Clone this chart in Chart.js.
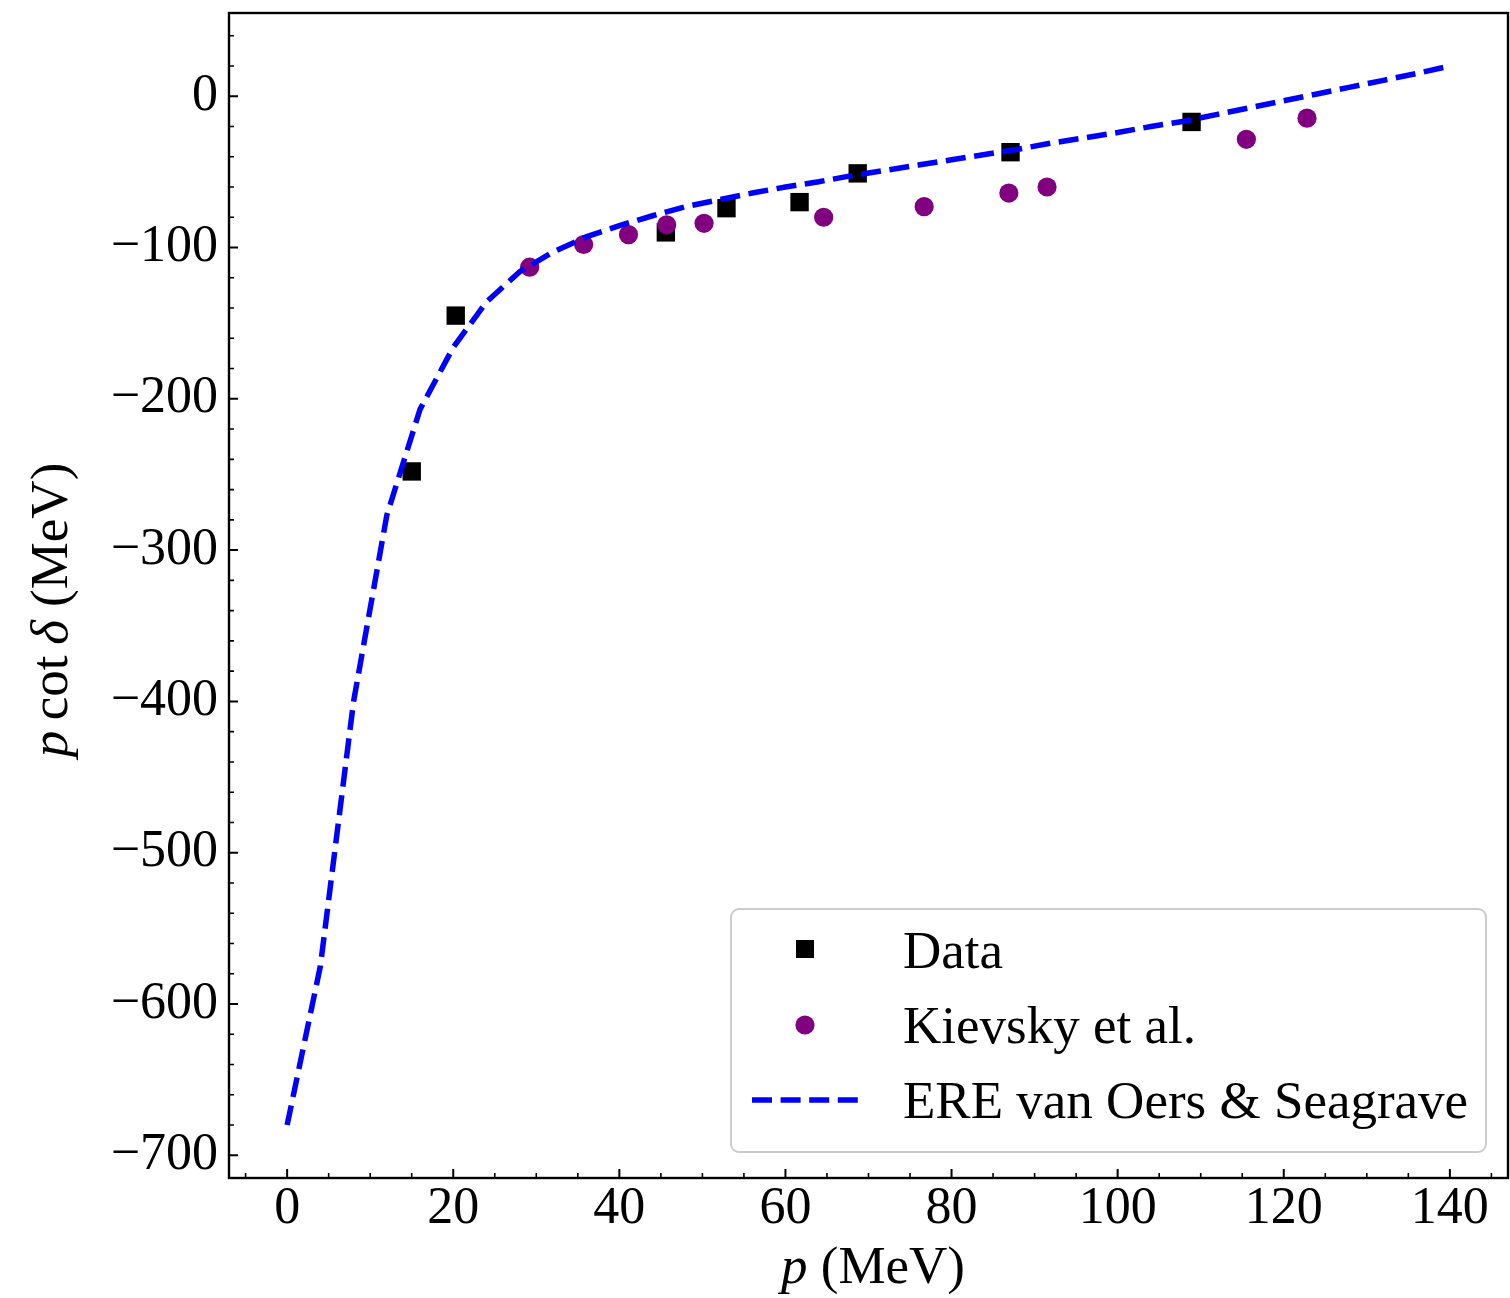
<!DOCTYPE html>
<html>
<head>
<meta charset="utf-8">
<script src="https://cdn.jsdelivr.net/npm/chart.js@4.4.0/dist/chart.umd.min.js"></script>
<style>
  html, body { margin: 0; padding: 0; background: #fff; }
  #wrap { width: 1510px; height: 1298px; }
</style>
</head>
<body>
<div id="wrap"><canvas id="pcot" width="1510" height="1298"></canvas></div>
<script>
// measured n-d doublet points: p (MeV) and p cot(delta) (MeV)
var data_p    = [15.0, 20.3, 45.6, 52.9, 61.7, 68.7, 87.1, 108.9];
var data_pcot = [-248, -145, -90, -74, -70, -51, -37, -17];

// Kievsky et al. calculation
var kiev_p    = [29.2, 35.7, 41.1, 45.7, 50.2, 64.6, 76.7, 86.9, 91.5, 115.5, 122.8];
var kiev_pcot = [-113, -98, -91.5, -85, -84, -80, -73, -64, -60, -28.5, -14.5];

// effective range expansion curve (van Oers & Seagrave)
var ere_p    = [0, 4, 8, 12, 16, 20, 24, 28, 32, 36, 40, 44, 48, 52, 56, 60, 64, 68,
                72, 76, 80, 84, 88, 92, 96, 100, 104, 108, 112, 116, 120, 124, 128, 132, 136, 140];
var ere_pcot = [-680, -575, -400, -277, -207, -166, -136, -116, -103, -93, -85.5, -79, -73, -68.5, -64, -60, -56.5, -52.5,
                -49, -45.5, -42, -38.5, -35, -31, -27.5, -24, -20, -16.5, -12, -7.5, -3, 1.5, 6, 10.5, 15, 20];

var x_ticks = [0, 20, 40, 60, 80, 100, 120, 140];
var y_ticks = [-700, -600, -500, -400, -300, -200, -100, 0];

var serif = "'Liberation Serif', 'Times New Roman', serif";

function pairs(xs, ys) {
    return xs.map(function (x, i) { return { x: x, y: ys[i] }; });
}

// spines + inward ticks (major and minor), drawn over the data like matplotlib
var framePlugin = {
    id: 'frame',
    afterDraw: function (chart) {
        var c = chart.ctx, a = chart.chartArea;
        var sx = chart.scales.x, sy = chart.scales.y;
        c.save();
        c.strokeStyle = '#000';
        c.lineCap = 'butt';

        c.lineWidth = 1.6;
        c.beginPath();
        for (var v = -5; v <= 145; v += 5) {
            if (v % 20 === 0) continue;
            var px = sx.getPixelForValue(v);
            c.moveTo(px, a.bottom); c.lineTo(px, a.bottom - 5);
        }
        for (var w = -700; w <= 40; w += 20) {
            if (w % 100 === 0) continue;
            var py = sy.getPixelForValue(w);
            c.moveTo(a.left, py); c.lineTo(a.left + 5, py);
        }
        c.stroke();

        c.lineWidth = 2;
        c.beginPath();
        x_ticks.forEach(function (t) {
            var px = sx.getPixelForValue(t);
            c.moveTo(px, a.bottom); c.lineTo(px, a.bottom - 9);
        });
        y_ticks.forEach(function (t) {
            var py = sy.getPixelForValue(t);
            c.moveTo(a.left, py); c.lineTo(a.left + 9, py);
        });
        c.stroke();

        c.lineWidth = 2.4;
        c.strokeRect(a.left, a.top, a.right - a.left, a.bottom - a.top);
        c.restore();
    }
};

// axis titles with italic math symbols
var titlePlugin = {
    id: 'titles',
    afterDraw: function (chart) {
        var c = chart.ctx;
        var it = 'italic 53px ' + serif, rm = '53px ' + serif;
        c.save();
        c.fillStyle = '#000';
        c.textBaseline = 'alphabetic';
        c.textAlign = 'left';

        // x title: p (MeV)
        var xparts = [[it, 'p'], [rm, ' (MeV)']];
        drawParts(c, xparts, 873, 1283);

        // y title: p cot δ (MeV), rotated
        c.translate(67, 610);
        c.rotate(-Math.PI / 2);
        var yparts = [[it, 'p'], [rm, '\u2009cot\u2009'], [it, '\u03b4'], [rm, ' (MeV)']];
        drawParts(c, yparts, 0, 0);
        c.restore();
    }
};

function drawParts(c, parts, cx, base) {
    var total = 0;
    parts.forEach(function (p) { c.font = p[0]; total += c.measureText(p[1]).width; });
    var x = cx - total / 2;
    parts.forEach(function (p) {
        c.font = p[0];
        c.fillText(p[1], x, base);
        x += c.measureText(p[1]).width;
    });
}

// legend box in the lower right of the plot
var legendPlugin = {
    id: 'boxLegend',
    afterDraw: function (chart) {
        var c = chart.ctx;
        var bx = 731, by = 909, bw = 755, bh = 243;
        c.save();
        c.beginPath();
        c.roundRect(bx, by, bw, bh, 8);
        c.fillStyle = 'rgba(255,255,255,0.8)';
        c.fill();
        c.lineWidth = 2;
        c.strokeStyle = '#cccccc';
        c.stroke();

        var ds = chart.data.datasets;
        var rows = [949, 1025, 1100];
        var bases = [968, 1043, 1118];
        var mx = 805;

        // square marker
        c.fillStyle = ds[0].backgroundColor;
        c.fillRect(mx - 9, rows[0] - 9, 18, 18);
        // circle marker
        c.fillStyle = ds[1].backgroundColor;
        c.beginPath();
        c.arc(mx, rows[1], 9.6, 0, Math.PI * 2);
        c.fill();
        // dashed line
        c.strokeStyle = ds[2].borderColor;
        c.lineWidth = ds[2].borderWidth;
        c.setLineDash(ds[2].borderDash);
        c.beginPath();
        c.moveTo(752, rows[2]);
        c.lineTo(858, rows[2]);
        c.stroke();
        c.setLineDash([]);

        c.fillStyle = '#000';
        c.font = '53px ' + serif;
        c.textBaseline = 'alphabetic';
        c.textAlign = 'left';
        ds.forEach(function (d, i) { c.fillText(d.label, 903, bases[i]); });
        c.restore();
    }
};

function noPad(s) {
    s.paddingTop = 0;
    s.paddingBottom = 0;
    s.paddingLeft = 0;
    s.paddingRight = 0;
}

var ctx = document.getElementById('pcot');
var chart = new Chart(ctx, {
    type: 'scatter',
    data: {
        datasets: [{
            label: 'Data',
            data: pairs(data_p, data_pcot),
            pointStyle: 'rect',
            pointRadius: 13,
            backgroundColor: '#000000',
            borderColor: '#000000',
            borderWidth: 0,
            order: 2
        }, {
            label: 'Kievsky et al.',
            data: pairs(kiev_p, kiev_pcot),
            pointStyle: 'circle',
            pointRadius: 9.6,
            backgroundColor: '#800080',
            borderColor: '#800080',
            borderWidth: 0,
            order: 1
        }, {
            label: 'ERE van Oers & Seagrave',
            data: pairs(ere_p, ere_pcot),
            showLine: true,
            pointRadius: 0,
            borderColor: '#0000ff',
            borderWidth: 5.5,
            borderDash: [20, 8.6],
            tension: 0,
            fill: false,
            order: 0
        }]
    },
    options: {
        responsive: false,
        animation: false,
        devicePixelRatio: 1,
        events: [],
        layout: { autoPadding: false, padding: { top: 13, right: 2, left: 0, bottom: 0 } },
        plugins: {
            legend: { display: false },
            tooltip: { enabled: false }
        },
        scales: {
            x: {
                type: 'linear',
                min: -7,
                max: 147,
                afterBuildTicks: function (s) { s.ticks = x_ticks.map(function (v) { return { value: v }; }); },
                afterFit: function (s) { s.height = 120; noPad(s); },
                grid: { display: false },
                border: { display: false },
                ticks: {
                    font: { family: serif, size: 52 },
                    color: '#000',
                    padding: -8,
                    maxRotation: 0,
                    autoSkip: false
                }
            },
            y: {
                type: 'linear',
                min: -715,
                max: 55,
                afterBuildTicks: function (s) { s.ticks = y_ticks.map(function (v) { return { value: v }; }); },
                afterFit: function (s) { s.width = 229; noPad(s); },
                grid: { display: false },
                border: { display: false },
                ticks: {
                    font: { family: serif, size: 52 },
                    color: '#000',
                    padding: 3,
                    autoSkip: false,
                    callback: function (v) { return v < 0 ? '\u2212' + Math.abs(v) : String(v); }
                }
            }
        }
    },
    plugins: [framePlugin, titlePlugin, legendPlugin]
});
</script>
</body>
</html>
